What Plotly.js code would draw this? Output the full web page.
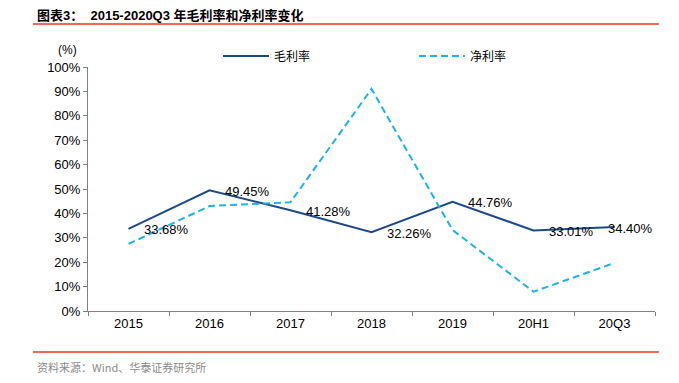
<!DOCTYPE html>
<html>
<head>
<meta charset="utf-8">
<script src="https://cdn.plot.ly/plotly-3.0.1.min.js"></script>
<style>html,body{margin:0;padding:0;background:#fff;}#chart{width:679px;height:383px;}</style>
</head>
<body>
<div id="chart"></div>
<script>
const categories = ['2015', '2016', '2017', '2018', '2019', '20H1', '20Q3'];
const grossMargin = [33.68, 49.45, 41.28, 32.26, 44.76, 33.01, 34.40];
const netMargin = [27.5, 43.0, 44.6, 91.0, 33.2, 7.9, 19.7];
const grossLabels = ['33.68%', '49.45%', '41.28%', '32.26%', '44.76%', '33.01%', '34.40%'];
const seriesNames = ['毛利率', '净利率'];
const yTicks = [0, 10, 20, 30, 40, 50, 60, 70, 80, 90, 100];

const latin = 'Liberation Sans, Arial, sans-serif';
const cjk = '"Noto Sans CJK SC", sans-serif';
const mixed = 'Liberation Sans, Arial, "Noto Sans CJK SC", sans-serif';

const traces = [
  {
    x: categories, y: grossMargin, name: seriesNames[0], type: 'scatter', mode: 'lines',
    line: {color: '#1b4a87', width: 2}, legend: 'legend'
  },
  {
    x: categories, y: netMargin, name: seriesNames[1], type: 'scatter', mode: 'lines',
    line: {color: '#1fb1ea', width: 2, dash: '7px,4px'}, legend: 'legend2'
  }
];

const lastIdx = categories.length - 1;
const annotations = categories.map((c, i) => ({
  x: i, y: grossMargin[i], xref: 'x', yref: 'y', text: grossLabels[i],
  showarrow: false, xanchor: 'left', yanchor: 'middle', xshift: i === lastIdx ? -9 : 13, yshift: -1,
  font: {family: latin, size: 13, color: '#000'}
}));
annotations.push({
  xref: 'paper', yref: 'paper', x: -0.036, y: 1.07, text: '(%)', showarrow: false,
  xanchor: 'center', yanchor: 'middle', font: {family: latin, size: 12, color: '#000'}
});
annotations.push({
  xref: 'paper', yref: 'paper', x: -0.093, y: 1.213, text: '<b>图表3：  2015-2020Q3 年毛利率和净利率变化</b>',
  showarrow: false, xanchor: 'left', yanchor: 'middle', font: {family: mixed, size: 13, color: '#000'}
});
annotations.push({
  xref: 'paper', yref: 'paper', x: -0.093, y: -0.23, text: '资料来源：Wind、华泰证券研究所',
  showarrow: false, xanchor: 'left', yanchor: 'middle', font: {family: cjk, size: 11, color: '#8a8a8a'}
});

const legendBase = {
  orientation: 'h', y: 1.045, xanchor: 'left', yanchor: 'middle',
  font: {family: cjk, size: 12, color: '#000'}, itemwidth: 46, bgcolor: 'rgba(0,0,0,0)'
};

const layout = {
  width: 679, height: 383,
  margin: {l: 88, r: 24, t: 67, b: 72},
  paper_bgcolor: '#fff', plot_bgcolor: '#fff',
  showlegend: true,
  legend: Object.assign({}, legendBase, {x: (218 - 88) / 567}),
  legend2: Object.assign({}, legendBase, {x: (414 - 88) / 567}),
  xaxis: {
    type: 'category', range: [-0.5, 6.5], tickson: 'boundaries', ticks: 'outside', ticklen: 4,
    tickcolor: '#808080', showline: true, linecolor: '#808080', linewidth: 1,
    showgrid: false, zeroline: false, fixedrange: true,
    tickfont: {family: latin, size: 13, color: '#000'}
  },
  yaxis: {
    range: [0, 100], tickvals: yTicks, ticktext: yTicks.map(v => v + '%'),
    ticks: 'outside', ticklen: 4, tickcolor: '#808080', showline: true, linecolor: '#808080',
    linewidth: 1, showgrid: false, zeroline: false,
    tickfont: {family: latin, size: 13, color: '#000'}
  },
  shapes: [
    {type: 'line', xref: 'paper', yref: 'paper', x0: -0.097, x1: 1.007, y0: 1.176, y1: 1.176,
     line: {color: '#e8392a', width: 1.5}},
    {type: 'line', xref: 'paper', yref: 'paper', x0: -0.097, x1: 1.007, y0: -0.168, y1: -0.168,
     line: {color: '#e8392a', width: 1.5}}
  ],
  annotations: annotations
};

Plotly.newPlot('chart', traces, layout, {displayModeBar: false, staticPlot: true});
</script>
</body>
</html>
